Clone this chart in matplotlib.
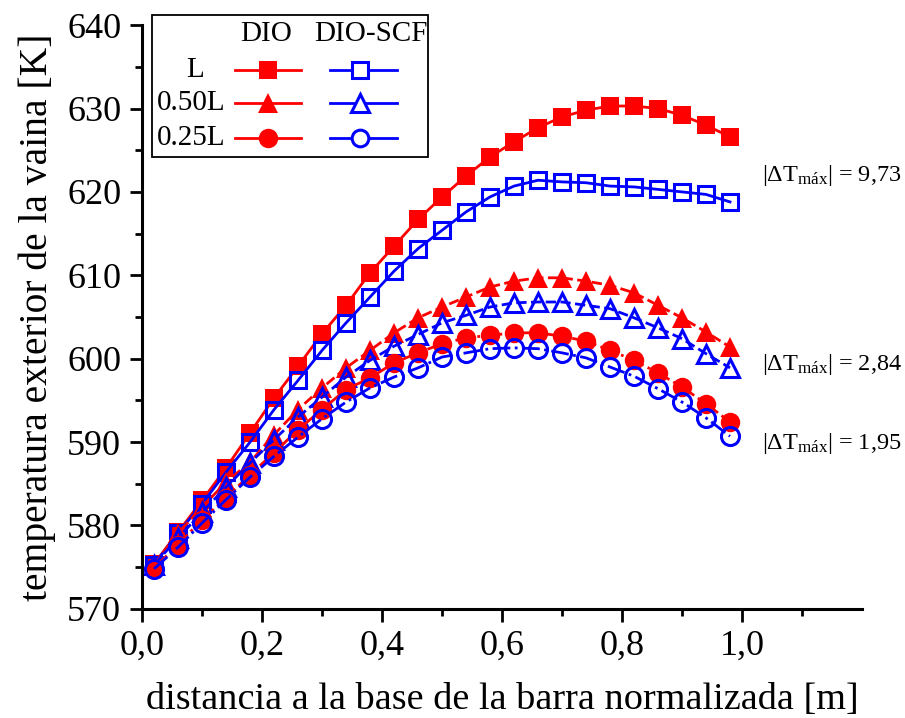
import matplotlib
matplotlib.use('Agg')
import matplotlib.pyplot as plt
from matplotlib.lines import Line2D
from matplotlib.patches import Rectangle
from matplotlib.ticker import FixedLocator, FuncFormatter

plt.rcParams['font.family'] = ['Liberation Serif', 'DejaVu Serif']
plt.rcParams['mathtext.fontset'] = 'custom'
plt.rcParams['mathtext.rm'] = 'Liberation Serif'
plt.rcParams['mathtext.it'] = 'Liberation Serif:italic'

# posicion normalizada a lo largo de la barra
x = [0.02, 0.06, 0.10, 0.14, 0.18, 0.22, 0.26, 0.30, 0.34, 0.38, 0.42, 0.46, 0.50,
     0.54, 0.58, 0.62, 0.66, 0.70, 0.74, 0.78, 0.82, 0.86, 0.90, 0.94, 0.98]

# temperatura exterior de la vaina [K]
L_dio = [575.4, 579.2, 583.0, 586.9, 591.1, 595.3, 599.1, 603.0, 606.4, 610.3, 613.5, 616.7, 619.4,
         621.9, 624.2, 626.0, 627.7, 629.0, 629.8, 630.3, 630.3, 630.0, 629.2, 628.0, 626.6]
L_scf = [575.3, 579.1, 582.6, 586.4, 590.0, 593.9, 597.4, 601.0, 604.3, 607.4, 610.5, 613.2, 615.4,
         617.6, 619.4, 620.7, 621.4, 621.2, 621.1, 620.7, 620.6, 620.3, 620.0, 619.7, 618.8]
L50_dio = [575.3, 579.1, 582.2, 585.2, 587.6, 590.9, 593.9, 596.5, 598.9, 601.0, 603.1, 604.9, 606.2,
           607.4, 608.6, 609.3, 609.7, 609.7, 609.3, 608.8, 607.9, 606.4, 604.9, 603.2, 601.4]
L50_scf = [575.3, 578.5, 581.6, 584.6, 587.5, 590.3, 593.0, 595.4, 597.8, 599.8, 601.5, 602.9, 604.3,
           605.2, 606.2, 606.7, 606.8, 606.8, 606.4, 606.0, 604.9, 603.7, 602.4, 600.6, 598.9]
L25_dio = [574.9, 577.7, 580.7, 583.3, 586.1, 588.7, 591.5, 593.9, 596.3, 597.7, 599.5, 600.7, 601.8,
           602.5, 602.8, 603.1, 603.1, 602.7, 602.1, 601.0, 599.8, 598.3, 596.6, 594.6, 592.4]
L25_scf = [574.8, 577.4, 580.3, 583.1, 585.8, 588.3, 590.6, 592.8, 594.8, 596.5, 597.8, 598.9, 600.2,
           600.7, 601.2, 601.3, 601.2, 600.7, 600.1, 599.0, 597.9, 596.4, 594.8, 592.9, 590.7]

row_labels = ['L', '0.50L', '0.25L']
col_labels = ['DIO', 'DIO-SCF']
dT_max = ['9,73', '2,84', '1,95']

RED = '#ff0000'
BLUE = '#0000ff'

fig = plt.figure(figsize=(9.05, 7.18), dpi=100)
ax = fig.add_axes([0.157, 0.152, 0.7955, 0.813])

series = [
    (L_dio, RED, 's', '-', True, 13),
    (L_scf, BLUE, 's', '-', False, 12),
    (L50_dio, RED, '^', '--', True, 15),
    (L50_scf, BLUE, '^', '--', False, 13),
    (L25_dio, RED, 'o', '-.', True, 14),
    (L25_scf, BLUE, 'o', '-.', False, 13),
]
for y, c, m, ls, filled, ms in series:
    ax.plot(x, y, color=c, ls=ls, lw=2.0, marker=m, ms=ms,
            mfc=c if filled else 'none', mec=c, mew=0 if filled else 2.2)

ax.set_xlim(0, 1.2)
ax.set_ylim(570, 640)
ax.spines['top'].set_visible(False)
ax.spines['right'].set_visible(False)
for s in ('left', 'bottom'):
    ax.spines[s].set_linewidth(2.2)

ax.xaxis.set_major_locator(FixedLocator([0.0, 0.2, 0.4, 0.6, 0.8, 1.0]))
ax.xaxis.set_minor_locator(FixedLocator([0.1, 0.3, 0.5, 0.7, 0.9, 1.1]))
ax.yaxis.set_major_locator(FixedLocator(list(range(570, 641, 10))))
ax.yaxis.set_minor_locator(FixedLocator(list(range(575, 640, 10))))
ax.xaxis.set_major_formatter(FuncFormatter(lambda v, p: f'{v:.1f}'.replace('.', ',')))
ax.tick_params(which='major', direction='out', length=9, width=2, labelsize=26, pad=6)
ax.tick_params(which='minor', direction='out', length=5, width=2)

ax.set_xlabel('distancia a la base de la barra normalizada [m]', fontsize=27.5, labelpad=14)
ax.set_ylabel('temperatura exterior de la vaina [K]', fontsize=28.5, labelpad=8)

# leyenda construida a mano: columnas DIO / DIO-SCF, filas por longitud
fig.add_artist(Rectangle((0.168, 0.781), 0.305, 0.198, transform=fig.transFigure,
                         fill=False, ec='black', lw=1.3))
fig.text(0.294, 0.953, col_labels[0], fontsize=21, ha='center', va='center')
fig.text(0.410, 0.953, col_labels[1], fontsize=21, ha='center', va='center')
row_y = [0.903, 0.856, 0.808]
markers = ['s', '^', 'o']
msizes = [13, 15, 14]
for lab, yy, m, ms in zip(row_labels, row_y, markers, msizes):
    fig.text(0.216 if lab == 'L' else 0.211, yy, lab, fontsize=21, ha='center', va='center')
    fig.add_artist(Line2D([0.260, 0.333], [yy, yy], transform=fig.transFigure,
                          color=RED, lw=2.0, marker=None))
    fig.add_artist(Line2D([0.296], [yy], transform=fig.transFigure, color=RED,
                          marker=m, ms=ms, mfc=RED, mew=0, ls='none'))
    fig.add_artist(Line2D([0.365, 0.439], [yy, yy], transform=fig.transFigure,
                          color=BLUE, lw=2.0, marker=None))
    fig.add_artist(Line2D([0.398], [yy], transform=fig.transFigure, color=BLUE,
                          marker=m, ms=ms - 2, mfc='white', mec=BLUE, mew=2.2, ls='none'))

for val, yb in zip(dT_max, [0.748, 0.485, 0.375]):
    fig.text(0.842, yb, r'$|\Delta\mathrm{T}_{\mathrm{máx}}|$ = ' + val, fontsize=17.5,
             ha='left', va='baseline')

fig.savefig('out.png', dpi=100)
